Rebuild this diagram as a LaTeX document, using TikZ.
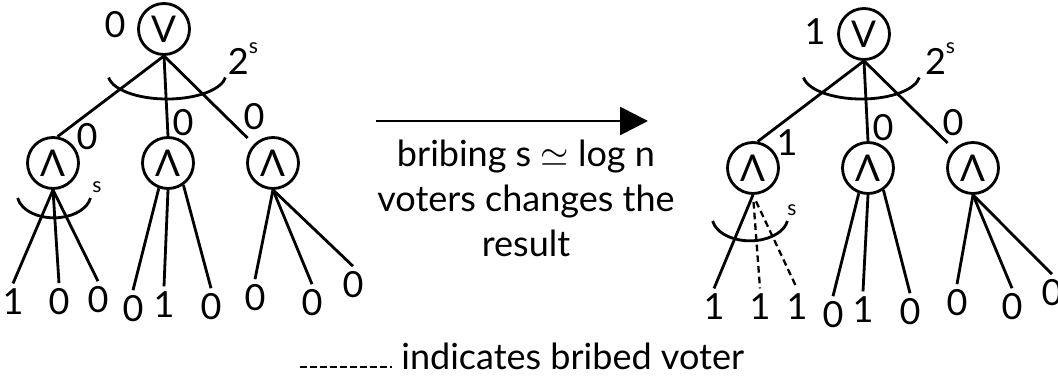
\documentclass[tikz,border=0pt]{standalone}
\usepackage{fontspec}
\setmainfont{Lato}
\usetikzlibrary{arrows.meta,calc}

\begin{document}
\begin{tikzpicture}[x=0.02cm,y=-0.02cm,
        gate/.style={circle, draw, line width=1.6pt, minimum size=1.02cm, inner sep=0pt, font=\fontsize{21}{21}\selectfont},
        val/.style={inner sep=3pt, font=\fontsize{20.5}{20.5}\selectfont},
        small/.style={inner sep=0pt, font=\fontsize{12}{12}\selectfont},
        wire/.style={line width=1.6pt},
        bribed/.style={line width=1.3pt, dash pattern=on 3.8pt off 2.3pt},
        brace/.style={line width=1.6pt}]
        \useasboundingbox (0,0) rectangle (1058,385);

        % tree before bribing
        \node[gate] (A) at (164,29) {V};
        \node[gate] (a1) at (53,163) {Λ};
        \node[gate] (a2) at (168,163) {Λ};
        \node[gate] (a3) at (273,163) {Λ};

        \node[val] (Aval) at (115,25) {0};
        \node[val] (a1val) at (87,137) {0};
        \node[val] (a2val) at (183,123) {0};
        \node[val] (a3val) at (254,117) {0};

        \node[val] (l11) at (13,302) {1};
        \node[val] (l12) at (59,302) {0};
        \node[val] (l13) at (98,300) {0};
        \node[val] (l21) at (133,309) {0};
        \node[val] (l22) at (164,305) {1};
        \node[val] (l23) at (211,307) {0};
        \node[val] (l31) at (255,298) {0};
        \node[val] (l32) at (312,303) {0};
        \node[val] (l33) at (353,285) {0};

        \draw[wire] (A.south) -- (a1.80);
        \draw[wire] (A.south) -- (a2.north);
        \draw[wire, shorten >=5pt] (A.south) -- (a3);

        \draw[wire] (a1.south) -- (l11.north);
        \draw[wire] (a1.south) -- (l12.north);
        \draw[wire] (a1.south) -- (l13.north);
        \draw[wire] (a2.250) -- (l21.north);
        \draw[wire] (a2.south) -- (l22.north);
        \draw[wire] (a2.305) -- (l23.north);
        \draw[wire] (a3.south) -- (l31.north);
        \draw[wire] (a3.south) -- (l32.north);
        \draw[wire] (a3.south) -- (l33.north);

        \draw[brace] ($(A)+(-55.4,48.5)$) arc[start angle=188, end angle=352, x radius=1.18cm, y radius=0.5cm];
        \draw[brace] ($(a1)+(-35.4,35)$) arc[start angle=190, end angle=350, x radius=0.74cm, y radius=0.48cm];
        \node[val, inner sep=0pt, anchor=base] (Apow) at (243,75) {2\raisebox{0.6em}{\fontsize{12}{12}\selectfont s}};
        \node[small] (a1s) at (97,187) {s};

        % arrow and its text
        \coordinate (arrowstart) at (376,121);
        \coordinate (arrowend) at (648,121);
        \draw[wire, -{Triangle[length=0.56cm, width=0.56cm]}] (arrowstart) -- (arrowend);
        \node[align=center, anchor=base, inner sep=0pt, font=\fontsize{20.5}{25.6}\selectfont] (msg) at (526,256)
            {bribing s $\simeq$ log n\\voters changes the\\result};

        % tree after bribing
        \node[gate] (B) at (864,34) {V};
        \node[gate] (b1) at (753,168) {Λ};
        \node[gate] (b2) at (868,168) {Λ};
        \node[gate] (b3) at (973,168) {Λ};

        \node[val] (Bval) at (815,32) {1};
        \node[val] (b1val) at (787,143) {1};
        \node[val] (b2val) at (883,128) {0};
        \node[val] (b3val) at (953,123) {0};

        \node[val] (r11) at (714,307) {1};
        \node[val] (r12) at (760,307) {1};
        \node[val] (r13) at (797,307) {1};
        \node[val] (r21) at (833,315) {0};
        \node[val] (r22) at (863,310) {1};
        \node[val] (r23) at (910,312) {0};
        \node[val] (r31) at (957,303) {0};
        \node[val] (r32) at (1012,307) {0};
        \node[val] (r33) at (1052,293) {0};

        \draw[wire] (B.south) -- (b1.80);
        \draw[wire] (B.south) -- (b2.north);
        \draw[wire, shorten >=5pt] (B.south) -- (b3);

        \draw[wire] (b1.south) -- (r11.north);
        \draw[bribed, shorten <=4pt] (b1.south) -- (r12.north);
        \draw[bribed, shorten <=4pt] (b1.south) -- (r13.north);
        \draw[wire] (b2.250) -- (r21.north);
        \draw[wire] (b2.south) -- (r22.north);
        \draw[wire] (b2.305) -- (r23.north);
        \draw[wire] (b3.south) -- (r31.north);
        \draw[wire] (b3.south) -- (r32.north);
        \draw[wire] (b3.south) -- (r33.north);

        \draw[brace] ($(B)+(-60.5,43.5)$) arc[start angle=188, end angle=352, x radius=1.17cm, y radius=0.5cm];
        \draw[brace] ($(b1)+(-40.4,53)$) arc[start angle=190, end angle=350, x radius=0.76cm, y radius=0.48cm];
        \node[val, inner sep=0pt, anchor=base] (Bpow) at (940,75) {2\raisebox{0.6em}{\fontsize{12}{12}\selectfont s}};
        \node[small] (b1s) at (792,210) {s};

        % legend
        \coordinate (legend0) at (300,367);
        \coordinate (legend1) at (392,367);
        \draw[line width=0.75pt, dash pattern=on 3.8pt off 1.9pt] (legend0) -- (legend1);
        \node[anchor=base west, inner sep=0pt, font=\fontsize{20.5}{20.5}\selectfont] (legend) at (401,369) {indicates bribed voter};

    \end{tikzpicture}
\end{document}
